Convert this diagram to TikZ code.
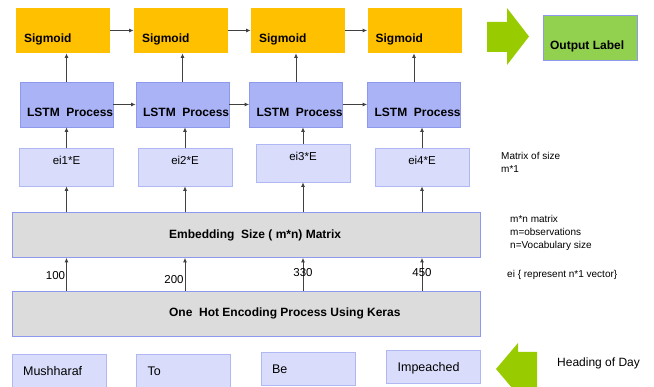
\documentclass[tikz,border=0pt]{standalone}
\usepackage{fontspec}
\setmainfont{Liberation Sans}
\usetikzlibrary{arrows.meta}
\definecolor{sigorange}{HTML}{FFC000}
\definecolor{lstmblue}{HTML}{A9B3F6}
\definecolor{eiblue}{HTML}{D9DDFB}
\definecolor{edgeblue}{HTML}{8E99EE}
\definecolor{boxgrey}{HTML}{DCDCDC}
\definecolor{arrowgreen}{HTML}{99CC00}
\definecolor{outgreen}{HTML}{92D050}
\begin{document}
\begin{tikzpicture}[x=1pt,y=-1pt,
  box/.style={rectangle, inner sep=0pt, line width=0.8pt},
  sigbox/.style={box, fill=sigorange, minimum width=94pt, minimum height=45pt,
    label={[bold, anchor=base west, xshift=5pt, yshift=-12pt]west:#1}},
  lstmbox/.style={box, draw=edgeblue, fill=lstmblue, minimum width=93pt, minimum height=45pt,
    label={[bold, anchor=base west, xshift=4pt, yshift=-12pt]west:#1}},
  eibox/.style={box, draw=edgeblue!70, fill=eiblue, minimum width=94pt, minimum height=38pt,
    label={[font=\fontsize{11.5}{13}\selectfont, anchor=base, yshift=-16.5pt]north:#1}},
  greybox/.style={box, draw=edgeblue, fill=boxgrey, minimum width=468pt, minimum height=45pt,
    label={[bold, anchor=west, xshift=154pt]west:#1}},
  wordbox/.style={box, draw=edgeblue!70, fill=eiblue, minimum width=94pt, minimum height=33pt,
    label={[font=\fontsize{12.5}{14}\selectfont, anchor=west, xshift=8pt, yshift=-1pt]west:#1}},
  bold/.style={font=\fontsize{12}{14}\selectfont\bfseries},
  arr/.style={draw=black!75, line width=0.8pt, -{Latex[length=4.5pt,width=4pt]}},
  numtxt/.style={font=\fontsize{11.5}{13}\selectfont, inner sep=1pt},
  note/.style={font=\fontsize{10}{13}\selectfont, align=left, anchor=west, inner sep=0pt}]
\useasboundingbox (0,0) rectangle (654,387);
% top row
\node[sigbox=Sigmoid] (sig1) at (63,30.5){};
\node[sigbox=Sigmoid] (sig2) at (181,30.5){};
\node[sigbox=Sigmoid] (sig3) at (298,30.5){};
\node[sigbox=Sigmoid] (sig4) at (414.5,30.5){};
\draw[arr](sig1) -- (sig2);
\draw[arr](sig2) -- (sig3);
\draw[arr](sig3) -- (sig4);
\fill[arrowgreen] (487,22) -- (507,22) -- (507,8) -- (529,36.5) -- (507,65) -- (507,52) -- (487,52) -- cycle;
\node[box, draw=edgeblue, fill=outgreen, minimum width=94pt, minimum height=45pt,
  label={[bold, anchor=base west, xshift=4pt, yshift=-12pt]west:Output\ Label}] (out) at (590,37.5){};
% lstm row
\node[lstmbox=LSTM\ \ Process] (lstm1) at (66.5,104.5){};
\node[lstmbox=LSTM\ \ Process] (lstm2) at (182.5,104.5){};
\node[lstmbox=LSTM\ \ Process] (lstm3) at (296,104.5){};
\node[lstmbox=LSTM\ \ Process] (lstm4) at (414,104.5){};
\draw[arr](lstm1) -- (lstm2);
\draw[arr](lstm2) -- (lstm3);
\draw[arr](lstm3) -- (lstm4);
\draw[arr](lstm1.north) -- (lstm1.north |- sig1.south);
\draw[arr](lstm2.north) -- (lstm2.north |- sig2.south);
\draw[arr](lstm3.north) -- (lstm3.north |- sig3.south);
\draw[arr](lstm4.north) -- (lstm4.north |- sig4.south);
% embedding vectors
\node[eibox=ei1*E] (ei1) at (66.5,167){};
\node[eibox=ei2*E] (ei2) at (185,167){};
\node[eibox=ei3*E] (ei3) at (303,163){};
\node[eibox=ei4*E] (ei4) at (422,167){};
\draw[arr](ei1.north) -- (ei1.north |- lstm1.south);
\draw[arr](ei2.north) -- (ei2.north |- lstm2.south);
\draw[arr](ei3.north) -- (ei3.north |- lstm3.south);
\draw[arr](ei4.north) -- (ei4.north |- lstm4.south);
\node[note] (n1) at (501,162) {Matrix of size\\m*1};
% matrices
\node[greybox=Embedding\ \ Size ( m*n) Matrix] (emb) at (246,235){};
\node[greybox=One\ \ Hot Encoding Process Using Keras] (hot) at (246,313.5){};
\draw[arr](emb.north -| ei1.south) -- (ei1.south);
\draw[arr](emb.north -| ei2.south) -- (ei2.south);
\draw[arr](emb.north -| ei3.south) -- (ei3.south);
\draw[arr](emb.north -| ei4.south) -- (ei4.south);
\draw[arr](hot.north -| ei1.south) -- (emb.south -| ei1.south) node[numtxt, pos=0.45, left]{100};
\draw[arr](hot.north -| ei2.south) -- (emb.south -| ei2.south) node[numtxt, pos=0.35, left]{200};
\draw[arr](hot.north -| ei3.south) -- (emb.south -| ei3.south) node[numtxt, pos=0.55]{330};
\draw[arr](hot.north -| ei4.south) -- (emb.south -| ei4.south) node[numtxt, pos=0.55]{450};
\node[note] (n2) at (510,233) {m*n matrix\\m=observations\\n=Vocabulary size};
\node[note] (n3) at (507,275) {ei \{ represent n*1 vector\}};
% input words
\node[wordbox=Mushharaf] (w1) at (59,370.5){};
\node[wordbox=To] (w2) at (183.5,370.5){};
\node[wordbox=Be] (w3) at (308,368.5){};
\node[wordbox=Impeached] (w4) at (433.5,367){};
\fill[arrowgreen] (496,369) -- (518,343) -- (518,352) -- (537,352) -- (537,387) -- (518,387) -- (518,395) -- cycle;
\node[font=\fontsize{12}{14}\selectfont, anchor=west, inner sep=0pt] (head) at (557,363) {Heading of Day};
\end{tikzpicture}
\end{document}
